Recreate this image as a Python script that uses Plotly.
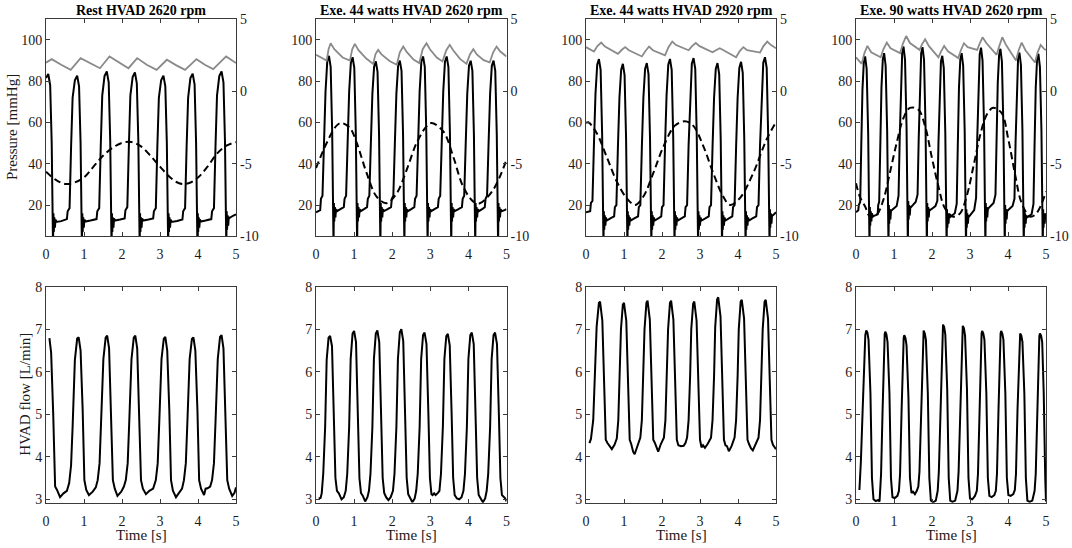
import plotly.graph_objects as go

# ---------------- data ----------------
titles = ["Rest HVAD 2620 rpm", "Exe. 44 watts HVAD 2620 rpm",
          "Exe. 44 watts HVAD 2920 rpm", "Exe. 90 watts HVAD 2620 rpm"]
time_ticks = [0, 1, 2, 3, 4, 5]
pressure_ticks = [20, 40, 60, 80, 100]
right_ticks = [-10, -5, 0, 5]
right_tick_labels = ["-10", "-5", "0", "5"]
flow_ticks = [3, 4, 5, 6, 7, 8]

# black solid pressure (left axis, mmHg): (time s, value)
black_1 = [(0.0,81.5),(0.06,83.5),(0.11,78),(0.15,50),(0.185,0),(0.195,16),(0.205,7),(0.22,14),(0.235,9),(0.25,13),(0.275,11.8),(0.40,12.2),(0.55,13.2),
(0.57,17),(0.62,18.5),(0.66,48),(0.70,72),(0.76,80.5),(0.82,82.7),(0.87,77.5),(0.91,50),(0.945,0),(0.955,16),(0.965,7),(0.98,14),(0.995,9),(1.01,13),(1.035,12),(1.17,12.5),(1.33,13.2),
(1.35,17),(1.40,18.5),(1.44,48),(1.48,73),(1.54,82.5),(1.60,84.7),(1.65,79.5),(1.69,51),(1.725,0),(1.735,16),(1.745,7),(1.76,14),(1.775,9),(1.79,13.5),(1.815,12.5),(1.95,13),(2.07,13.5),
(2.09,17.5),(2.14,19),(2.18,48),(2.22,73),(2.28,82),(2.34,84.3),(2.39,79),(2.43,51),(2.465,0),(2.475,16),(2.485,7),(2.50,14),(2.515,9),(2.53,13.5),(2.555,12.5),(2.70,13),(2.82,13.5),
(2.84,17),(2.89,18.5),(2.93,48),(2.97,72),(3.03,80.5),(3.09,82.7),(3.14,77.5),(3.18,50),(3.215,0),(3.225,16),(3.235,7),(3.25,14),(3.265,9),(3.28,13),(3.305,11.8),(3.45,12.3),(3.59,13),
(3.61,17),(3.66,18.5),(3.70,48),(3.74,72),(3.80,81.5),(3.86,83.6),(3.91,78.5),(3.95,50),(3.985,0),(3.995,16),(4.005,7),(4.02,14),(4.035,9),(4.05,13),(4.075,12),(4.20,12.5),(4.35,13.2),
(4.37,17),(4.42,18.5),(4.46,48),(4.50,73),(4.56,82.5),(4.62,84.7),(4.67,79.5),(4.71,51),(4.745,0),(4.755,17),(4.765,8),(4.78,15),(4.795,10),(4.81,14),(4.835,13.8),(4.92,14.8),(5.0,15.5)]

black_2 = [(0.0,16.5),(0.11,17.5),(0.13,23),(0.17,24.5),(0.21,50),(0.25,75),(0.295,89.5),(0.34,92.3),(0.385,87),(0.425,55),(0.46,0),(0.47,21),(0.48,12),(0.495,19),(0.51,14),(0.525,18),(0.55,17),(0.64,18),(0.73,19),
(0.75,23),(0.79,24.5),(0.83,50),(0.87,75),(0.915,89),(0.96,91.6),(1.005,86.5),(1.045,55),(1.08,0),(1.09,21),(1.10,12),(1.115,19),(1.13,14),(1.145,18),(1.17,17),(1.26,18),(1.34,19),
(1.36,23),(1.40,24.5),(1.44,50),(1.48,74),(1.525,87),(1.57,89.6),(1.615,84.5),(1.655,54),(1.69,0),(1.70,21),(1.71,12),(1.725,19),(1.74,14),(1.755,18),(1.78,17),(1.88,18),(1.97,19),
(1.99,23),(2.03,24.5),(2.07,50),(2.11,74),(2.155,87.5),(2.20,90),(2.245,85),(2.285,54),(2.32,0),(2.33,21),(2.34,12),(2.355,19),(2.37,14),(2.385,18),(2.41,17),(2.50,18),(2.58,19),
(2.60,23),(2.64,24.5),(2.68,50),(2.72,75),(2.765,89.5),(2.81,92),(2.855,87),(2.895,55),(2.93,0),(2.94,21),(2.95,12),(2.965,19),(2.98,14),(2.995,18),(3.02,17),(3.11,18),(3.20,19),
(3.22,23),(3.26,24.5),(3.30,50),(3.34,75),(3.385,89.5),(3.43,92),(3.475,87),(3.515,55),(3.55,0),(3.56,21),(3.57,12),(3.585,19),(3.60,14),(3.615,18),(3.64,17),(3.74,18),(3.83,19),
(3.85,23),(3.89,24.5),(3.93,50),(3.97,74),(4.015,87.5),(4.06,89.9),(4.105,85),(4.145,54),(4.18,0),(4.19,21),(4.20,12),(4.215,19),(4.23,14),(4.245,18),(4.27,17),(4.36,18),(4.43,19),
(4.45,23),(4.49,24.5),(4.53,50),(4.57,74),(4.615,87.5),(4.66,90),(4.705,85),(4.745,54),(4.78,0),(4.79,21),(4.80,12),(4.815,19),(4.83,14),(4.845,18),(4.87,17),(4.95,17.5),(5.0,18)]

black_3 = [(0.0,16.5),(0.11,17),(0.13,21),(0.17,22),(0.21,50),(0.25,74),(0.295,88),(0.34,90.7),(0.385,85.5),(0.425,54),(0.46,0),(0.47,17),(0.48,8),(0.495,15),(0.51,10),(0.525,14),(0.55,12.5),(0.64,13.5),(0.74,14.5),
(0.76,19),(0.80,20),(0.84,48),(0.88,72),(0.925,85.5),(0.97,88.4),(1.015,83),(1.055,52),(1.09,0),(1.10,17),(1.11,8),(1.125,15),(1.14,10),(1.155,14),(1.18,12.5),(1.27,13.5),(1.37,14.5),
(1.39,19),(1.43,20),(1.47,48),(1.51,72),(1.555,86),(1.60,88.8),(1.645,83.5),(1.685,52),(1.72,0),(1.73,17),(1.74,8),(1.755,15),(1.77,10),(1.785,14),(1.81,12.5),(1.90,13.5),(1.98,14.5),
(2.00,19),(2.04,20),(2.08,49),(2.12,73),(2.165,88),(2.21,90.8),(2.255,85.5),(2.295,53),(2.33,0),(2.34,17),(2.35,8),(2.365,15),(2.38,10),(2.395,14),(2.42,12.5),(2.51,13.5),(2.60,14.5),
(2.62,19),(2.66,20),(2.70,49),(2.74,73),(2.785,88.5),(2.83,91.2),(2.875,86),(2.915,53),(2.95,0),(2.96,17),(2.97,8),(2.985,15),(3.00,10),(3.015,14),(3.04,12.5),(3.14,13.5),(3.23,14.5),
(3.25,19),(3.29,20),(3.33,48),(3.37,72),(3.415,86),(3.46,88.8),(3.505,83.5),(3.545,52),(3.58,0),(3.59,17),(3.60,8),(3.615,15),(3.63,10),(3.645,14),(3.67,12.5),(3.76,13.5),(3.85,14.5),
(3.87,19),(3.91,20),(3.95,48),(3.99,72),(4.035,86.5),(4.08,89.4),(4.125,84),(4.165,52),(4.20,0),(4.21,17),(4.22,8),(4.235,15),(4.25,10),(4.265,14),(4.29,12.5),(4.38,13.5),(4.48,14.5),
(4.50,19),(4.54,20),(4.58,49),(4.62,73),(4.665,89),(4.71,91.6),(4.755,86.5),(4.795,53),(4.83,0),(4.84,18),(4.85,9),(4.865,16),(4.88,11),(4.895,15),(4.92,15),(5.0,16.5)]

black_4 = [(0.0,16.5),(0.06,17.5),(0.075,20),(0.11,21.5),(0.14,50),(0.17,76),(0.205,89),(0.24,92),(0.28,86),(0.32,55),(0.355,0),(0.365,19),(0.375,10),(0.39,17),(0.405,12),(0.42,16),(0.44,14.5),(0.57,15.5),
(0.585,20),(0.61,21.5),(0.64,50),(0.67,77),(0.705,90.5),(0.74,93.6),(0.78,87.5),(0.82,56),(0.855,0),(0.865,20),(0.875,11),(0.89,18),(0.905,13),(0.92,17),(0.94,17.5),(1.07,19.5),
(1.095,23),(1.12,24.5),(1.15,52),(1.18,79),(1.215,93.5),(1.25,96.8),(1.29,90.5),(1.33,58),(1.365,0),(1.375,22),(1.385,13),(1.40,20),(1.415,15),(1.43,19),(1.45,19),(1.57,21.5),
(1.595,24),(1.62,25),(1.65,52),(1.68,79),(1.715,93.5),(1.75,96.5),(1.79,90.5),(1.83,58),(1.865,0),(1.875,21),(1.885,12),(1.90,19),(1.915,14),(1.93,18),(1.95,17.5),(2.09,19.5),
(2.115,21),(2.14,22),(2.17,50),(2.20,76),(2.235,89.5),(2.27,92.3),(2.31,86.5),(2.35,55),(2.385,0),(2.395,18),(2.405,9),(2.42,16),(2.435,11),(2.45,15),(2.47,14),(2.60,16),
(2.625,19.5),(2.65,20.5),(2.68,50),(2.71,77),(2.745,90.5),(2.78,93.6),(2.82,87.5),(2.86,56),(2.895,0),(2.905,18),(2.915,9),(2.93,16),(2.945,11),(2.96,15),(2.98,14.5),(3.11,17.5),
(3.135,22),(3.16,23.5),(3.19,52),(3.22,79),(3.255,93),(3.29,96.3),(3.33,90),(3.37,58),(3.405,0),(3.415,21),(3.425,12),(3.44,19),(3.455,14),(3.47,18),(3.49,18.5),(3.62,21),
(3.645,24),(3.67,25),(3.70,52),(3.73,79),(3.765,92.5),(3.80,95.7),(3.84,89.5),(3.88,57),(3.915,0),(3.925,20),(3.935,11),(3.95,18),(3.965,13),(3.98,17),(4.00,17.5),(4.12,19.5),
(4.145,22),(4.17,23),(4.20,51),(4.23,77),(4.265,91),(4.30,93.9),(4.34,88),(4.38,56),(4.415,0),(4.425,18),(4.435,9),(4.45,16),(4.465,11),(4.48,15),(4.50,14),(4.62,15.5),
(4.645,19.5),(4.67,20.5),(4.70,50),(4.73,77),(4.765,90.5),(4.80,93.3),(4.84,87),(4.88,56),(4.915,0),(4.925,18),(4.935,9),(4.95,16),(4.965,11),(4.98,15),(5.0,16)]

# grey solid pressure (left axis, mmHg)
grey_1 = [(0.0,89.0),(0.15,90.7),(0.40,88.0),(0.65,85.5),(0.91,91.2),(1.15,88.8),(1.42,86.3),(1.67,92.0),(1.92,89.0),(2.17,86.3),
(2.40,91.2),(2.65,88.0),(2.91,85.5),(3.18,90.4),(3.42,87.8),(3.66,85.5),(3.96,90.7),(4.18,88.0),(4.40,85.9),(4.74,92.0),(5.0,88.8)]
grey_2 = [(0.0,92.8),(0.12,91.5),(0.28,90.0),(0.33,95.5),(0.385,98.4),(0.48,95.5),(0.70,91.5),(0.89,90.0),(0.95,95.5),(1.02,98.1),
(1.11,95.2),(1.32,91.0),(1.50,88.4),(1.56,93.0),(1.63,95.2),(1.72,93.0),(1.93,89.8),(2.12,88.0),(2.20,94.0),(2.29,96.8),(2.38,94.2),
(2.56,90.5),(2.71,88.8),(2.80,95.5),(2.90,98.4),(2.99,95.5),(3.17,91.5),(3.32,89.6),(3.42,95.0),(3.51,97.6),(3.60,95.0),(3.78,90.8),
(3.95,88.4),(4.04,93.0),(4.13,95.5),(4.22,93.0),(4.40,90.2),(4.56,89.1),(4.65,94.0),(4.74,96.8),(4.83,94.5),(5.0,92.0)]
grey_3 = [(0.0,96.5),(0.21,94.4),(0.30,97.0),(0.40,98.7),(0.50,96.8),(0.84,93.3),(0.93,95.0),(1.03,96.5),(1.13,95.0),(1.47,92.0),
(1.56,94.5),(1.66,96.8),(1.76,95.0),(2.08,92.5),(2.17,96.5),(2.27,99.2),(2.37,97.5),(2.70,95.0),(2.79,97.0),(2.89,98.5),(2.99,97.0),
(3.33,94.0),(3.42,95.0),(3.52,96.0),(3.62,95.0),(3.95,91.6),(4.04,94.5),(4.14,96.5),(4.24,95.0),(4.58,93.9),(4.67,97.0),(4.77,99.2),
(4.87,97.5),(5.0,96.0)]
grey_4 = [(0.0,91.6),(0.15,88.4),(0.22,93.5),(0.30,97.1),(0.40,94.0),(0.65,91.6),(0.72,95.5),(0.81,98.7),(0.91,96.0),(1.16,93.6),
(1.23,98.0),(1.32,101.9),(1.42,98.5),(1.67,95.2),(1.74,98.0),(1.82,100.3),(1.92,97.0),(2.17,91.6),(2.24,94.5),(2.32,97.1),(2.42,94.5),
(2.69,91.2),(2.76,95.0),(2.84,98.4),(2.94,96.5),(3.19,95.2),(3.26,98.5),(3.33,101.3),(3.43,98.5),(3.70,92.8),(3.77,97.0),(3.85,101.3),
(3.95,97.5),(4.21,90.0),(4.28,95.0),(4.36,98.7),(4.46,95.0),(4.71,89.1),(4.78,94.0),(4.86,97.6),(4.96,95.5),(5.0,95.2)]

# dashed pressure (right axis)
dash_1 = [(0.0,-5.55),(0.25,-6.1),(0.5,-6.4),(0.75,-6.3),(1.0,-5.95),(1.25,-5.2),(1.5,-4.45),(1.75,-3.9),(2.0,-3.55),(2.25,-3.5),
(2.5,-3.8),(2.75,-4.45),(3.0,-5.2),(3.25,-5.9),(3.5,-6.35),(3.75,-6.35),(4.0,-5.95),(4.25,-5.2),(4.5,-4.3),(4.75,-3.75),(5.0,-3.5)]
dash_2 = [(0.0,-5.3),(0.28,-3.56),(0.54,-2.36),(0.67,-2.18),(0.89,-2.52),(1.07,-3.56),(1.33,-5.65),(1.59,-7.27),(1.85,-7.73),(2.12,-7.04),
(2.38,-5.42),(2.64,-3.56),(2.9,-2.41),(3.03,-2.18),(3.34,-2.75),(3.6,-4.49),(3.86,-6.57),(4.13,-7.62),(4.3,-7.73),(4.65,-6.8),(5.0,-4.72)]
dash_3 = [(0.0,-2.18),(0.06,-2.13),(0.28,-2.87),(0.54,-4.49),(0.81,-6.23),(1.07,-7.38),(1.29,-7.85),(1.51,-7.27),(1.77,-5.65),(2.04,-3.8),
(2.34,-2.36),(2.6,-2.06),(2.82,-2.36),(3.09,-3.8),(3.35,-5.65),(3.61,-7.27),(3.79,-7.85),(4.05,-7.38),(4.4,-5.65),(4.75,-3.33),(5.0,-2.13)]
dash_4 = [(0.0,-6.34),(0.1,-7.27),(0.24,-7.96),(0.37,-8.66),(0.54,-8.54),(0.72,-7.5),(0.89,-5.65),(1.07,-3.56),(1.25,-1.83),(1.42,-1.13),
(1.64,-1.25),(1.82,-2.41),(1.99,-4.49),(2.17,-6.57),(2.34,-8.08),(2.56,-8.66),(2.74,-8.43),(2.91,-7.27),(3.09,-5.19),(3.26,-3.1),
(3.44,-1.6),(3.61,-1.13),(3.83,-1.48),(4.01,-3.33),(4.18,-5.65),(4.36,-7.73),(4.58,-8.66),(4.75,-8.43),(5.0,-6.92)]

# HVAD flow (L/min)
flow_1 = [(0.09,6.79),(0.135,6.45),(0.19,5.0),(0.24,3.3),(0.29,3.22),(0.37,3.05),(0.46,3.14),(0.55,3.2),(0.61,3.38),(0.66,3.8),(0.70,4.7),
(0.76,6.28),(0.82,6.78),(0.86,6.81),(0.91,6.5),(0.965,5.1),(1.01,3.45),(1.06,3.22),(1.13,3.1),(1.23,3.18),(1.31,3.28),(1.36,3.45),
(1.41,3.85),(1.45,4.8),(1.51,6.3),(1.57,6.8),(1.61,6.85),(1.66,6.55),(1.715,5.1),(1.76,3.45),(1.81,3.25),(1.88,3.08),(1.98,3.18),
(2.05,3.3),(2.10,3.45),(2.15,3.85),(2.19,4.8),(2.25,6.3),(2.31,6.8),(2.35,6.85),(2.40,6.55),(2.455,5.1),(2.50,3.45),(2.55,3.25),
(2.63,3.12),(2.72,3.2),(2.82,3.25),(2.89,3.45),(2.94,3.85),(2.98,4.8),(3.04,6.3),(3.10,6.78),(3.14,6.82),(3.19,6.5),(3.245,5.1),
(3.29,3.45),(3.34,3.2),(3.42,3.05),(3.51,3.15),(3.58,3.25),(3.63,3.45),(3.68,3.85),(3.72,4.8),(3.78,6.3),(3.84,6.77),(3.88,6.81),
(3.93,6.5),(3.985,5.1),(4.03,3.45),(4.08,3.25),(4.16,3.1),(4.20,3.25),(4.25,3.26),(4.32,3.3),(4.37,3.45),(4.42,3.85),(4.46,4.8),
(4.52,6.3),(4.58,6.82),(4.62,6.86),(4.67,6.55),(4.725,5.1),(4.77,3.45),(4.82,3.25),(4.90,3.08),(4.96,3.15),(5.0,3.28)]
flow_2 = [(0.07,3.02),(0.12,3.03),(0.15,3.14),(0.19,3.6),(0.24,4.7),(0.28,6.28),(0.33,6.8),(0.37,6.84),(0.42,6.6),(0.47,5.0),(0.51,3.5),
(0.55,3.2),(0.60,3.14),(0.67,3.0),(0.73,3.05),(0.78,3.2),(0.82,3.6),(0.87,4.7),(0.91,6.3),(0.96,6.9),(1.0,6.96),(1.05,6.7),(1.10,5.0),
(1.14,3.5),(1.18,3.15),(1.23,3.08),(1.29,2.95),(1.35,3.05),(1.39,3.2),(1.43,3.6),(1.48,4.7),(1.52,6.3),(1.57,6.9),(1.61,6.97),(1.66,6.7),
(1.71,5.0),(1.75,3.5),(1.79,3.15),(1.84,3.05),(1.90,2.98),(1.96,3.05),(2.02,3.2),(2.06,3.6),(2.11,4.7),(2.15,6.3),(2.20,6.93),(2.24,7.0),
(2.29,6.72),(2.34,5.0),(2.38,3.5),(2.42,3.12),(2.47,3.02),(2.53,2.93),(2.59,3.02),(2.63,3.2),(2.67,3.6),(2.72,4.7),(2.76,6.3),(2.81,6.86),
(2.85,6.92),(2.90,6.65),(2.95,5.0),(2.99,3.5),(3.03,3.12),(3.06,3.1),(3.10,3.14),(3.14,3.1),(3.20,3.15),(3.24,3.2),(3.28,3.6),(3.33,4.7),
(3.37,6.3),(3.42,6.84),(3.46,6.89),(3.51,6.62),(3.56,5.0),(3.60,3.5),(3.64,3.1),(3.70,3.02),(3.76,3.0),(3.82,3.05),(3.87,3.2),(3.91,3.6),
(3.96,4.7),(4.00,6.3),(4.05,6.86),(4.09,6.92),(4.14,6.65),(4.19,5.0),(4.23,3.5),(4.27,3.1),(4.32,3.02),(4.38,2.93),(4.44,3.02),(4.48,3.2),
(4.52,3.6),(4.57,4.7),(4.61,6.3),(4.66,6.86),(4.70,6.92),(4.75,6.65),(4.80,5.0),(4.84,3.5),(4.88,3.1),(4.93,3.05),(4.97,3.02),(5.0,2.95)]
flow_3 = [(0.09,4.32),(0.13,4.42),(0.19,4.86),(0.24,5.9),(0.28,7.06),(0.34,7.62),(0.37,7.65),(0.43,7.2),(0.48,5.9),(0.52,4.4),(0.56,4.33),
(0.62,4.24),(0.68,4.18),(0.75,4.28),(0.81,4.43),(0.85,4.86),(0.89,5.9),(0.92,7.0),(0.97,7.58),(1.0,7.62),(1.06,7.2),(1.11,5.9),(1.15,4.4),
(1.19,4.3),(1.24,4.12),(1.28,4.06),(1.35,4.25),(1.43,4.45),(1.47,4.86),(1.51,5.9),(1.54,7.0),(1.59,7.62),(1.62,7.67),(1.68,7.22),(1.73,5.9),
(1.77,4.4),(1.81,4.33),(1.86,4.2),(1.90,4.12),(1.97,4.3),(2.05,4.45),(2.09,4.86),(2.13,5.9),(2.16,7.0),(2.21,7.62),(2.24,7.67),(2.30,7.22),
(2.35,5.9),(2.39,4.4),(2.43,4.27),(2.50,4.25),(2.57,4.26),(2.62,4.33),(2.66,4.45),(2.70,4.86),(2.74,5.9),(2.77,7.0),(2.82,7.6),(2.85,7.65),
(2.91,7.2),(2.96,5.9),(3.00,4.4),(3.04,4.22),(3.08,4.27),(3.13,4.21),(3.20,4.3),(3.29,4.45),(3.33,4.86),(3.37,5.9),(3.40,7.05),(3.45,7.7),
(3.48,7.75),(3.54,7.3),(3.59,5.9),(3.63,4.4),(3.67,4.27),(3.71,4.25),(3.76,4.13),(3.83,4.25),(3.91,4.45),(3.95,4.86),(3.99,5.9),(4.02,7.0),
(4.07,7.65),(4.10,7.69),(4.16,7.25),(4.21,5.9),(4.25,4.4),(4.29,4.3),(4.34,4.2),(4.39,4.15),(4.46,4.28),(4.54,4.45),(4.58,4.86),(4.62,5.9),
(4.65,7.0),(4.70,7.65),(4.73,7.69),(4.79,7.25),(4.84,5.9),(4.88,4.4),(4.92,4.28),(4.97,4.22),(5.0,4.18)]
flow_4 = [(0.09,3.22),(0.13,3.92),(0.175,5.1),(0.21,6.28),(0.245,6.86),(0.27,6.97),(0.30,6.92),(0.33,6.75),(0.38,5.5),(0.42,3.5),(0.46,3.0),
(0.52,2.96),(0.58,2.98),(0.62,2.95),(0.64,3.2),(0.66,3.6),(0.70,5.1),(0.735,6.4),(0.755,6.88),(0.77,6.94),(0.80,6.88),(0.83,6.7),(0.88,5.5),
(0.92,3.5),(0.96,3.05),(1.02,3.03),(1.09,3.08),(1.13,3.2),(1.16,3.6),(1.20,5.1),(1.235,6.35),(1.255,6.8),(1.27,6.86),(1.30,6.8),(1.33,6.62),
(1.38,5.4),(1.42,3.5),(1.46,3.15),(1.50,3.18),(1.55,3.12),(1.60,3.2),(1.64,3.3),(1.67,3.65),(1.71,5.1),(1.745,6.4),(1.765,6.9),(1.78,6.97),
(1.81,6.9),(1.84,6.75),(1.89,5.5),(1.93,3.5),(1.97,2.97),(2.03,2.93),(2.10,2.97),(2.15,3.2),(2.18,3.65),(2.22,5.15),(2.255,6.5),(2.275,7.02),
(2.29,7.11),(2.32,7.05),(2.35,6.88),(2.40,5.6),(2.44,3.5),(2.48,2.97),(2.54,2.94),(2.61,2.97),(2.67,3.2),(2.70,3.65),(2.74,5.15),(2.775,6.5),
(2.795,7.0),(2.81,7.08),(2.84,7.02),(2.87,6.85),(2.92,5.6),(2.96,3.5),(3.00,3.02),(3.06,3.0),(3.13,3.08),(3.18,3.2),(3.21,3.6),(3.25,5.1),
(3.285,6.4),(3.305,6.9),(3.32,6.96),(3.35,6.9),(3.38,6.75),(3.43,5.5),(3.47,3.5),(3.51,3.08),(3.57,3.05),(3.64,3.1),(3.68,3.2),(3.71,3.6),
(3.75,5.1),(3.785,6.4),(3.805,6.9),(3.82,6.96),(3.85,6.9),(3.88,6.75),(3.93,5.5),(3.97,3.5),(4.01,3.1),(4.07,3.08),(4.14,3.12),(4.18,3.22),
(4.21,3.6),(4.25,5.1),(4.285,6.35),(4.305,6.84),(4.32,6.9),(4.35,6.85),(4.38,6.7),(4.43,5.5),(4.47,3.5),(4.51,2.97),(4.57,2.94),(4.64,2.97),
(4.70,3.2),(4.73,3.6),(4.77,5.1),(4.805,6.35),(4.825,6.84),(4.84,6.9),(4.87,6.85),(4.90,6.7),(4.94,5.5),(4.98,3.5),(5.0,2.95)]

black_sets = [black_1, black_2, black_3, black_4]
grey_sets = [grey_1, grey_2, grey_3, grey_4]
dash_sets = [dash_1, dash_2, dash_3, dash_4]
flow_sets = [flow_1, flow_2, flow_3, flow_4]

# ---------------- layout geometry (reference pixel positions) ----------------
W, H = 1072, 548
col_px = [(46, 236), (316, 506.5), (586, 776), (856, 1046)]
top_px = (19.3, 236)
bot_px = (286.7, 502.7)
FONT = "Liberation Serif"
FRAME = "#3a3a3a"
TXT = "#1a1a1a"


def xy(pairs):
    return [p[0] for p in pairs], [p[1] for p in pairs]


def px_x(x):
    return x / W


def px_y(y):
    return 1 - y / H


def ydom(px):
    return [px_y(px[1]), px_y(px[0])]


fig = go.Figure()
layout = dict(
    width=W, height=H, margin=dict(l=0, r=0, t=0, b=0, pad=0),
    paper_bgcolor="white", plot_bgcolor="white", showlegend=False,
    font=dict(family=FONT, size=14, color=TXT),
)

axis_common = dict(showgrid=False, zeroline=False, showline=True, linecolor=FRAME,
                   linewidth=1, ticks="inside", ticklen=4, tickcolor=FRAME, tickwidth=1,
                   automargin=False, tickfont=dict(family=FONT, size=14, color=TXT))

annotations = []
for i in range(4):
    n_top, n_bot, n_r = i + 1, i + 5, i + 9
    xd = [px_x(col_px[i][0]), px_x(col_px[i][1])]
    layout[f"xaxis{n_top}"] = dict(axis_common, domain=xd, anchor=f"y{n_top}", range=[0, 5],
                                   tickvals=time_ticks, mirror="ticks", ticklabelstandoff=5)
    layout[f"yaxis{n_top}"] = dict(axis_common, domain=ydom(top_px), anchor=f"x{n_top}",
                                   range=[5, 110], tickvals=pressure_ticks, mirror=True)
    layout[f"yaxis{n_r}"] = dict(axis_common, overlaying=f"y{n_top}", anchor=f"x{n_top}",
                                 side="right", range=[-10, 5], tickvals=right_ticks,
                                 ticktext=right_tick_labels, showline=False,
                                 ticklabelstandoff=3)
    layout[f"xaxis{n_bot}"] = dict(axis_common, domain=xd, anchor=f"y{n_bot}", range=[0, 5],
                                   tickvals=time_ticks, mirror="ticks", ticklabelstandoff=5)
    layout[f"yaxis{n_bot}"] = dict(axis_common, domain=ydom(bot_px), anchor=f"x{n_bot}",
                                   range=[2.92, 8], tickvals=flow_ticks, mirror="ticks")

    tx, ty = xy(black_sets[i])
    fig.add_trace(go.Scatter(x=tx, y=ty, mode="lines", line=dict(color="black", width=2),
                             xaxis=f"x{n_top}", yaxis=f"y{n_top}"))
    gx, gy = xy(grey_sets[i])
    fig.add_trace(go.Scatter(x=gx, y=gy, mode="lines", line=dict(color="#8a8a8a", width=1.8),
                             xaxis=f"x{n_top}", yaxis=f"y{n_top}"))
    dx, dy = xy(dash_sets[i])
    fig.add_trace(go.Scatter(x=dx, y=dy, mode="lines", line_shape="spline",
                             line=dict(color="black", width=2, dash="7px,4px"),
                             xaxis=f"x{n_top}", yaxis=f"y{n_r}"))
    fx, fy = xy(flow_sets[i])
    fig.add_trace(go.Scatter(x=fx, y=fy, mode="lines", line=dict(color="black", width=2),
                             xaxis=f"x{n_bot}", yaxis=f"y{n_bot}"))

    cx = px_x((col_px[i][0] + col_px[i][1]) / 2)
    annotations.append(dict(text=f"<b>{titles[i]}</b>", x=cx, y=px_y(10), xref="paper",
                            yref="paper", showarrow=False, xanchor="center", yanchor="middle",
                            font=dict(family=FONT, size=14, color="black")))
    annotations.append(dict(text="Time [s]", x=cx, y=px_y(535), xref="paper", yref="paper",
                            showarrow=False, xanchor="center", yanchor="middle",
                            font=dict(family=FONT, size=15, color=TXT)))

annotations.append(dict(text="Pressure [mmHg]", x=px_x(11.5), y=px_y(127.6), xref="paper",
                        yref="paper", showarrow=False, textangle=-90, xanchor="center",
                        yanchor="middle", font=dict(family=FONT, size=15, color=TXT)))
annotations.append(dict(text="HVAD flow [L/min]", x=px_x(25), y=px_y(394.7), xref="paper",
                        yref="paper", showarrow=False, textangle=-90, xanchor="center",
                        yanchor="middle", font=dict(family=FONT, size=15, color=TXT)))
layout["annotations"] = annotations
fig.update_layout(**layout)
# remove the page's default 8px body margin so the figure sits at the window origin
fig.write_html("out.html", config={"displayModeBar": False},
               post_script="document.body.style.margin='0px';")
